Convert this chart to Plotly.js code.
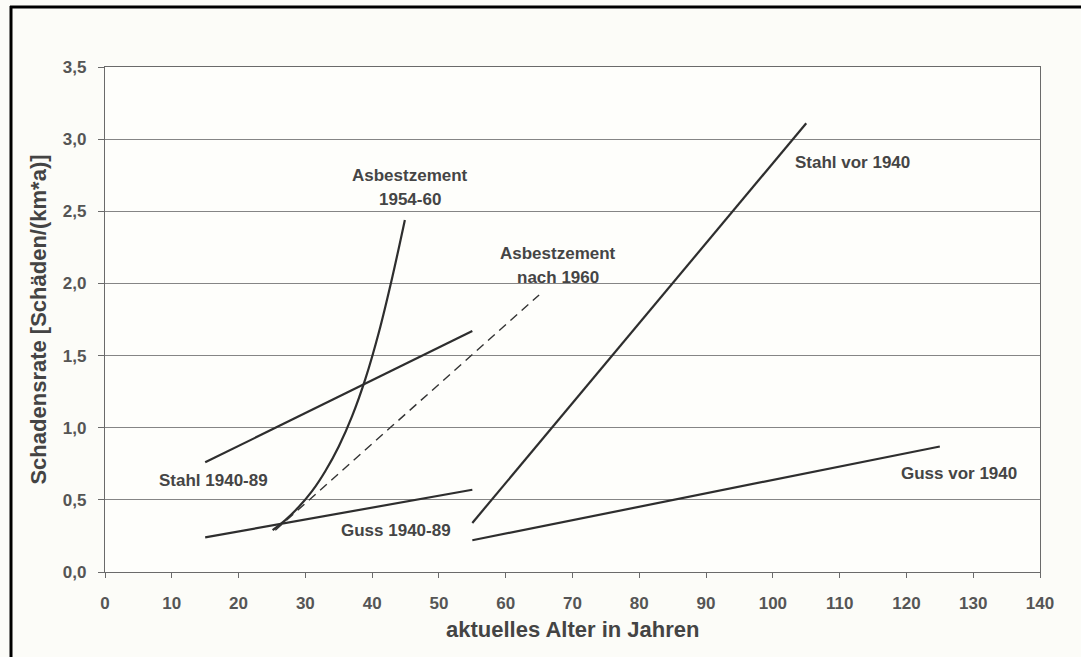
<!DOCTYPE html>
<html>
<head>
<meta charset="utf-8">
<script src="https://cdn.plot.ly/plotly-3.0.1.min.js"></script>
<style>html,body{margin:0;padding:0;background:#fcfcf8;}#chart{width:1081px;height:657px;}</style>
</head>
<body>
<div id="chart"></div>
<script>
// Data
const stahl4089X = [15, 55];
const stahl4089Y = [0.76, 1.67];
const guss4089X = [15, 55];
const guss4089Y = [0.24, 0.57];
const stahlVorX = [55, 105];
const stahlVorY = [0.34, 3.11];
const gussVorX = [55, 125];
const gussVorY = [0.22, 0.87];
const asb5460X = [25.1, 27, 29, 31, 33, 35, 37, 39, 41, 43, 44.9];
const asb5460Y = [0.29, 0.36, 0.45, 0.56, 0.70, 0.87, 1.08, 1.34, 1.66, 2.04, 2.44];
const asbNachX = [25.5, 65];
const asbNachY = [0.29, 1.92];

const labelText = ["Asbestzement", "1954-60", "Asbestzement", "nach 1960", "Stahl vor 1940", "Stahl 1940-89", "Guss 1940-89", "Guss vor 1940"];
const labelX = [45.7, 45.7, 67.9, 67.9, 103, 16.3, 43.6, 127.8];
const labelY = [2.75, 2.58, 2.21, 2.04, 2.84, 0.634, 0.285, 0.68];
const labelAnchor = ["center", "center", "center", "center", "left", "center", "center", "center"];

const xTicks = [0,10,20,30,40,50,60,70,80,90,100,110,120,130,140];
const yTicks = [0,0.5,1,1.5,2,2.5,3,3.5];

const FONT = 'Liberation Sans, Arial, sans-serif';
const lineColor = '#2e2e2e';
const lw = 2.2;
function solid(x, y, shape) {
  return {x: x, y: y, type: 'scatter', mode: 'lines', line: {color: lineColor, width: lw, shape: shape || 'linear', smoothing: 1}, hoverinfo: 'skip', showlegend: false};
}
const traces = [
  solid(stahl4089X, stahl4089Y),
  solid(guss4089X, guss4089Y),
  solid(stahlVorX, stahlVorY),
  solid(gussVorX, gussVorY),
  solid(asb5460X, asb5460Y, 'spline'),
  {x: asbNachX, y: asbNachY, type: 'scatter', mode: 'lines', line: {color: '#333', width: 1.4, dash: '9px,6px'}, hoverinfo: 'skip', showlegend: false}
];

const annotations = labelText.map((t, i) => ({
  x: labelX[i], y: labelY[i], xref: 'x', yref: 'y', text: t, showarrow: false,
  xanchor: labelAnchor[i], yanchor: 'middle',
  font: {family: FONT, size: 17, color: '#454545', weight: 'bold'}
}));
annotations.push({
  x: 0.5, y: (572 - 629) / 505, xref: 'paper', yref: 'paper',
  text: 'aktuelles Alter in Jahren', showarrow: false, xanchor: 'center', yanchor: 'middle',
  font: {family: FONT, size: 22, color: '#444', weight: 'bold'}
});

const layout = {
  width: 1081, height: 657,
  margin: {l: 105, r: 41, t: 67, b: 85},
  paper_bgcolor: '#fcfcf8', plot_bgcolor: '#fefefb',
  separators: ',.',
  xaxis: {
    range: [0, 140], tickvals: xTicks, ticktext: xTicks.map(String),
    showgrid: false, zeroline: false, showline: true, linecolor: '#6a6a6a', linewidth: 1.2, mirror: true,
    ticks: 'outside', ticklen: 5, tickcolor: '#6a6a6a', ticklabelstandoff: 10,
    tickfont: {family: FONT, size: 17, color: '#555', weight: 'bold'}
  },
  yaxis: {
    range: [0, 3.5], tickvals: yTicks, tickformat: '.1f',
    showgrid: true, gridcolor: '#858585', gridwidth: 1, zeroline: false,
    showline: true, linecolor: '#6a6a6a', linewidth: 1.2, mirror: true,
    ticks: 'outside', ticklen: 6, tickcolor: '#6a6a6a', ticklabelstandoff: 8,
    tickfont: {family: FONT, size: 17, color: '#555', weight: 'bold'},
    title: {text: 'Schadensrate [Schäden/(km*a)]', standoff: 10,
      font: {family: FONT, size: 22, color: '#444', weight: 'bold'}}
  },
  shapes: [
    {type: 'line', xref: 'paper', yref: 'paper', x0: (11 - 105) / 935, x1: (11 - 105) / 935, y0: (572 - 6) / 505, y1: (572 - 660) / 505, line: {color: '#000', width: 3}},
    {type: 'line', xref: 'paper', yref: 'paper', x0: (10 - 105) / 935, x1: (1085 - 105) / 935, y0: (572 - 7) / 505, y1: (572 - 7) / 505, line: {color: '#000', width: 3}}
  ],
  annotations: annotations
};

Plotly.newPlot('chart', traces, layout, {displayModeBar: false, staticPlot: true});
</script>
</body>
</html>
